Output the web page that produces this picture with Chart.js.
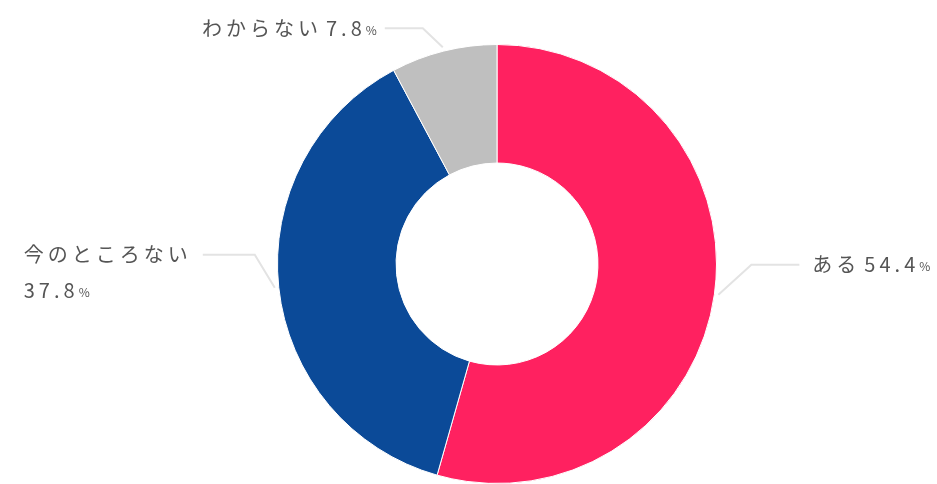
<!DOCTYPE html>
<html>
<head>
<meta charset="utf-8">
<script src="https://cdn.jsdelivr.net/npm/chart.js@4"></script>
<style>
  html, body { margin: 0; padding: 0; background: #fff; }
  #wrap { width: 937px; height: 484px; }
</style>
</head>
<body>
<div id="wrap"><canvas id="chart" width="937" height="484"></canvas></div>
<script>
"use strict";

const categories = ["ある", "今のところない", "わからない"];
const values = [54.4, 37.8, 7.8];
const colors = ["#ff2160", "#0b4a98", "#bfbfbf"];

// leader line layout for each label: elbow offset from arc edge, horizontal run
const labelLayout = [
	{ dx: 33, dy: -30, run: 48, side: "right" },
	{ dx: -20, dy: -33, run: -52, side: "left", wrap: true },
	{ dx: -20, dy: -19, run: -38, side: "left" }
];

const outLabels = {
	id: "outLabels",
	afterDraw(chart) {
		const ctx = chart.ctx;
		const arcs = chart.getDatasetMeta(0).data;
		const font = '"Noto Sans CJK JP", "Noto Sans", sans-serif';
		const big = "20px " + font, small = "12px " + font;
		arcs.forEach(function (arc, i) {
			const p = arc.getProps(["x", "y", "startAngle", "endAngle", "outerRadius"], true);
			const mid = (p.startAngle + p.endAngle) / 2;
			const r = p.outerRadius + 4;
			const ex = p.x + Math.cos(mid) * r;
			const ey = p.y + Math.sin(mid) * r;
			const lay = labelLayout[i];
			const bx = ex + lay.dx, by = ey + lay.dy;
			const hx = bx + lay.run;

			ctx.save();
			ctx.strokeStyle = "#e3e3e3";
			ctx.lineWidth = 2;
			ctx.beginPath();
			ctx.moveTo(ex, ey);
			ctx.lineTo(bx, by);
			ctx.lineTo(hx, by);
			ctx.stroke();

			ctx.fillStyle = "#555";
			ctx.textBaseline = "middle";
			ctx.textAlign = "left";
			ctx.letterSpacing = "4px";
			const name = categories[i];
			const num = values[i].toFixed(1);
			ctx.font = big;
			const wName = ctx.measureText(name).width + 4;
			const wNum = ctx.measureText(num).width;
			ctx.font = small;
			const wPct = ctx.measureText("%").width;

			let tx;
			if (lay.side === "right") {
				tx = hx + 13;
			} else if (lay.wrap) {
				tx = hx - 7 - wName;
			} else {
				tx = hx - 4 - (wName + wNum + wPct);
			}
			ctx.font = big;
			ctx.fillText(name, tx, by);
			if (lay.wrap) {
				ctx.fillText(num, tx, by + 36);
				ctx.font = small;
				ctx.fillText("%", tx + wNum, by + 38);
			} else {
				ctx.fillText(num, tx + wName, by);
				ctx.font = small;
				ctx.fillText("%", tx + wName + wNum, by + 2);
			}
			ctx.restore();
		});
	}
};

const chart = new Chart(document.getElementById("chart"), {
	type: "doughnut",
	data: {
		labels: categories,
		datasets: [{
			data: values,
			backgroundColor: colors,
			borderColor: "#ffffff",
			borderWidth: 1
		}]
	},
	options: {
		responsive: false,
		animation: false,
		cutout: "46%",
		layout: { padding: { left: 57, top: 44, right: 0, bottom: 0 } },
		plugins: {
			legend: { display: false },
			tooltip: { enabled: false }
		}
	},
	plugins: [outLabels]
});
</script>
</body>
</html>
